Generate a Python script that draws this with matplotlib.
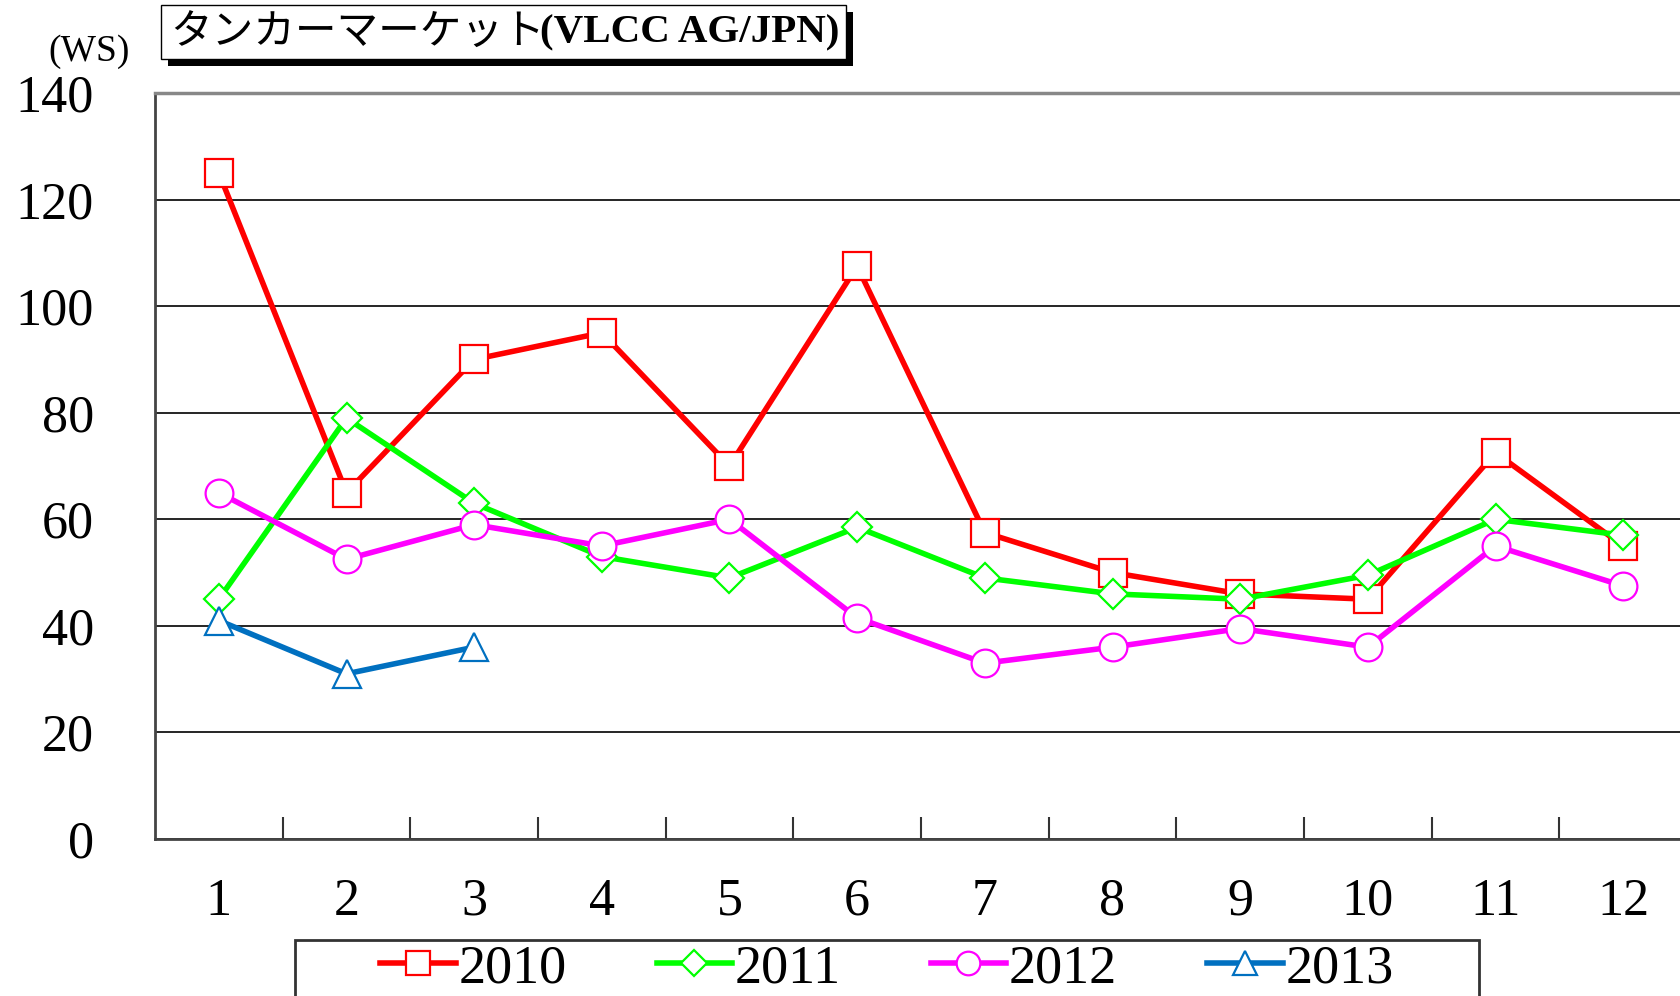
import matplotlib
matplotlib.use("Agg")
import matplotlib.pyplot as plt
from matplotlib.patches import Rectangle
from matplotlib.ticker import FixedLocator

months = [1, 2, 3, 4, 5, 6, 7, 8, 9, 10, 11, 12]
ws_2010 = [125, 65, 90, 95, 70, 107.5, 57.5, 50, 46, 45, 72.5, 55]
ws_2011 = [45, 79, 63, 53, 49, 58.5, 49, 46, 45, 49.5, 60, 57]
ws_2012 = [65, 52.5, 59, 55, 60, 41.5, 33, 36, 39.5, 36, 55, 47.5]
months_2013 = [1, 2, 3]
ws_2013 = [41, 31, 36]
yticks = [0, 20, 40, 60, 80, 100, 120, 140]
title_jp = "タンカーマーケット"
title_en = "(VLCC AG/JPN)"
unit_label = "(WS)"

W, H = 1680, 996
fig = plt.figure(figsize=(W / 100, H / 100), dpi=100)
serif = ["Liberation Serif", "DejaVu Serif"]

def fx(x):
    return x / W

def fy(y):
    return 1 - y / H

ax = fig.add_axes([fx(155), fy(839), fx(1687) - fx(155), fy(93) - fy(839)])

series = [
    (months, ws_2010, "2010", "#FF0000", "s", 20),
    (months, ws_2011, "2011", "#00FF00", "D", 15),
    (months, ws_2012, "2012", "#FF00FF", "o", 20),
    (months_2013, ws_2013, "2013", "#0070C0", "^", 20),
]
handles = []
for xs, ys, lab, col, mk, ms in series:
    h, = ax.plot(xs, ys, color=col, lw=4, marker=mk, markersize=ms,
                 markerfacecolor="white", markeredgecolor=col,
                 markeredgewidth=1.6, label=lab, zorder=3)
    handles.append(h)

ax.set_xlim(0.5, 12.5)
ax.set_ylim(0, 140)
ax.set_yticks(yticks)
ax.set_xticks(months)
ax.xaxis.set_minor_locator(FixedLocator([m + 0.5 for m in months[:-1]]))
ax.tick_params(axis="x", which="major", length=0, pad=28)
ax.tick_params(axis="x", which="minor", direction="in", length=16, width=1.5, color="#333333")
ax.tick_params(axis="y", length=0, pad=44)
for lbl in ax.get_xticklabels() + ax.get_yticklabels():
    lbl.set_fontfamily(serif)
    lbl.set_fontsize(37.5)
ax.grid(axis="y", color="black", lw=1.2, zorder=1)
ax.set_axisbelow(True)
ax.spines["left"].set_color("#444444")
ax.spines["left"].set_linewidth(2)
ax.spines["bottom"].set_color("#444444")
ax.spines["bottom"].set_linewidth(2)
ax.spines["top"].set_color("#888888")
ax.spines["top"].set_linewidth(2.5)
ax.spines["right"].set_visible(False)

# unit label
fig.text(fx(48), fy(52), unit_label, fontfamily=serif, fontsize=27, ha="left", va="center")

# title box with shadow
fig.add_artist(Rectangle((fx(168), fy(66)), fx(853) - fx(168), fy(12) - fy(66),
                         transform=fig.transFigure, facecolor="black", edgecolor="none", zorder=5))
fig.add_artist(Rectangle((fx(161), fy(59)), fx(846) - fx(161), fy(5) - fy(59),
                         transform=fig.transFigure, facecolor="white", edgecolor="black", lw=1, zorder=6))
t1 = fig.text(fx(170), fy(33), title_jp, fontfamily=["Noto Sans CJK JP", "DejaVu Sans"],
              fontsize=30, ha="left", va="center", zorder=7)
fig.canvas.draw()
bb = t1.get_window_extent(renderer=fig.canvas.get_renderer())
fig.text(bb.x1 / W - 0.003, fy(33), title_en, fontfamily=serif, fontweight="bold",
         fontsize=29.5, ha="left", va="center", zorder=7)

# legend box
fig.add_artist(Rectangle((fx(295), fy(1010)), fx(1479) - fx(295), fy(940) - fy(1010),
                         transform=fig.transFigure, facecolor="white", edgecolor="#333333", lw=2, zorder=4))
leg = fig.legend(handles=handles, loc="center", bbox_to_anchor=(fx(887), fy(969)),
                 ncol=4, frameon=False, prop={"family": serif, "size": 39},
                 handlelength=1.4, handletextpad=0.05, columnspacing=1.65,
                 markerscale=0.85)
leg.set_zorder(8)

fig.savefig("out.png", dpi=100)
